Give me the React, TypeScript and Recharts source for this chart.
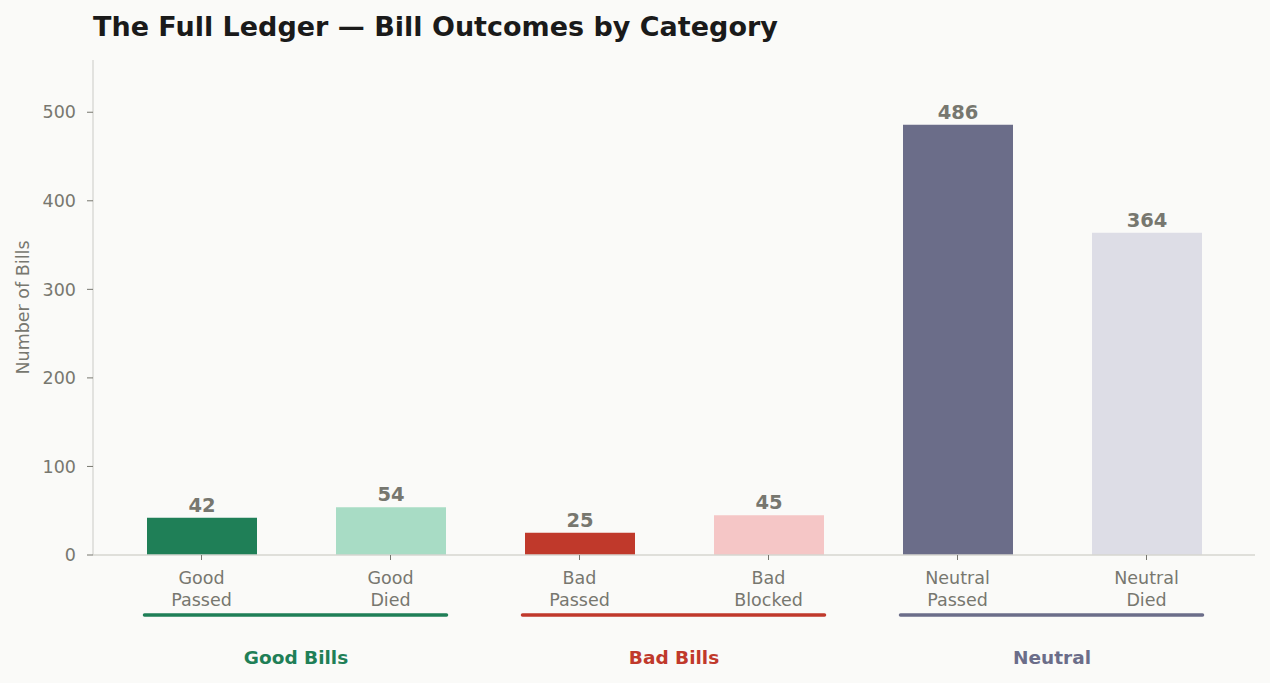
import React from 'react';
import { BarChart, Bar, XAxis, YAxis, Cell, LabelList } from 'recharts';

const categories = ['Good Passed', 'Good Died', 'Bad Passed', 'Bad Blocked', 'Neutral Passed', 'Neutral Died'];
const values = [42, 54, 25, 45, 486, 364];
const barColors = ['#1f7f57', '#a8dcc5', '#c0392b', '#f5c6c6', '#6b6d89', '#dddde6'];
const groupNames = ['Good Bills', 'Bad Bills', 'Neutral'];
const groupColors = ['#1f7f57', '#c0392b', '#6b6d89'];
const yTicks = [0, 100, 200, 300, 400, 500];

const data = categories.map((c, i) => ({ name: c, value: values[i] }));

const W = 1270;
const H = 683;
const M = { top: 60, right: 15, left: 0, bottom: 8 };
const Y_W = 93;
const PAD = 14;
const BAR = 110;
const STEP = (W - M.left - M.right - Y_W - 2 * PAD) / categories.length;
const FONT = 'DejaVu Sans, sans-serif';
const GRAY = '#77776f';
const AXIS = '#d6d6d1';

const XTick = (props: any) => {
  const { x, y, payload, index } = props;
  const lines = String(payload.value).split(' ');
  const isGroupStart = index % 2 === 0;
  const g = Math.floor(index / 2);
  return (
    <g>
      {lines.map((l, i) => (
        <text key={i} x={x} y={y + 22 + i * 22} textAnchor="middle" fill={GRAY} fontSize={17.5} fontFamily={FONT}>
          {l}
        </text>
      ))}
      {isGroupStart && (
        <g>
          <line
            x1={x - BAR / 2 - 2}
            x2={x + STEP + BAR / 2 + 1}
            y1={y + 53}
            y2={y + 53}
            stroke={groupColors[g]}
            strokeWidth={3.5}
            strokeLinecap="round"
          />
          <text x={x + STEP / 2} y={y + 102} textAnchor="middle" fill={groupColors[g]} fontSize={18.5} fontWeight="bold" fontFamily={FONT}>
            {groupNames[g]}
          </text>
        </g>
      )}
    </g>
  );
};

export default function App() {
  return (
    <div style={{ position: 'fixed', left: 0, top: 0, width: W, height: H, background: '#fafaf8', fontFamily: FONT }}>
      <div style={{ position: 'absolute', left: 93, top: 11, fontSize: 27, fontWeight: 'bold', color: '#1a1a1a', fontFamily: FONT, whiteSpace: 'nowrap' }}>
        The Full Ledger — Bill Outcomes by Category
      </div>
      <div style={{ position: 'absolute', left: 0, top: 0 }}>
        <BarChart width={W} height={H} data={data} margin={M}>
          <XAxis
            dataKey="name"
            interval={0}
            padding={{ left: PAD, right: PAD }}
            height={120}
            axisLine={{ stroke: AXIS, strokeWidth: 1.3 }}
            tickLine={{ stroke: GRAY }}
            tickSize={5}
            tick={<XTick />}
          />
          <YAxis
            width={Y_W}
            domain={[0, 559]}
            ticks={yTicks}
            allowDataOverflow
            axisLine={{ stroke: AXIS, strokeWidth: 1.3 }}
            tickLine={{ stroke: GRAY }}
            tickSize={6}
            tickMargin={11}
            tick={{ fill: GRAY, fontSize: 17.5, fontFamily: FONT }}
            label={{ value: 'Number of Bills', angle: -90, position: 'insideLeft', offset: 23, style: { fill: GRAY, fontSize: 17.5, fontFamily: FONT, textAnchor: 'middle' } }}
          />
          <Bar dataKey="value" barSize={BAR} isAnimationActive={false}>
            {data.map((d, i) => (
              <Cell key={i} fill={barColors[i]} />
            ))}
            <LabelList dataKey="value" position="top" offset={6} fill={GRAY} fontSize={19.5} fontWeight="bold" fontFamily={FONT} />
          </Bar>
        </BarChart>
      </div>
    </div>
  );
}
